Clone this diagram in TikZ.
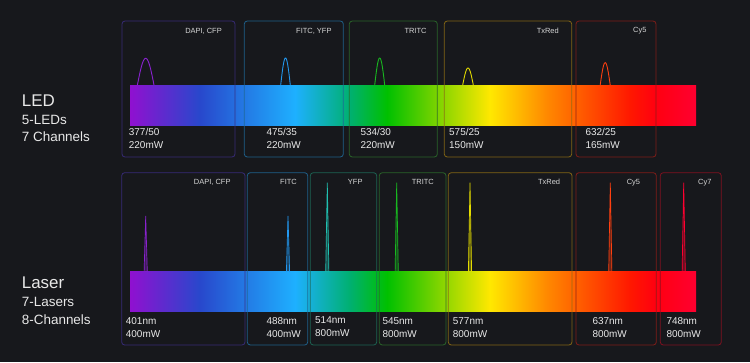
\documentclass[tikz,border=0pt]{standalone}
\usepackage{fontspec}
\setmainfont{Liberation Sans}
\usetikzlibrary{positioning}

\definecolor{bgdark}{RGB}{23,24,28}
\definecolor{txtlight}{RGB}{232,232,232}
\definecolor{txtsmall}{RGB}{214,214,214}
% spectrum stops
\definecolor{spViolet}{HTML}{9010D0}
\definecolor{spBlue}{HTML}{2848CC}
\definecolor{spSky}{HTML}{1EB0FF}
\definecolor{spTeal}{HTML}{00B070}
\definecolor{spGreen}{HTML}{00C000}
\definecolor{spYellow}{HTML}{FFE800}
\definecolor{spOrange}{HTML}{FF8800}
\definecolor{spRedOr}{HTML}{FF1800}
\definecolor{spRed}{HTML}{FF0010}
\definecolor{spCrimson}{HTML}{FF0030}
% box outlines
\definecolor{boxDapi}{HTML}{3A2C80}
\definecolor{boxFitc}{HTML}{1F6795}
\definecolor{boxYfp}{HTML}{1D6A58}
\definecolor{boxTritc}{HTML}{2B6B2A}
\definecolor{boxTxred}{HTML}{8C6C14}
\definecolor{boxCyfive}{HTML}{8A1D18}
\definecolor{boxCyseven}{HTML}{8A1020}
% peaks
\definecolor{pkDapi}{HTML}{8A22D0}
\definecolor{pkFitc}{HTML}{2298F0}
\definecolor{pkYfp}{HTML}{20C0B0}
\definecolor{pkTritc}{HTML}{18B820}
\definecolor{pkTxred}{HTML}{E4DC00}
\definecolor{pkCyfive}{HTML}{FF4010}
\definecolor{pkCyseven}{HTML}{FF0030}

\pgfdeclarehorizontalshading{spectrum}{100bp}{color(0bp)=(spViolet); color(25bp)=(spViolet);
  color(31.18bp)=(spBlue); color(39.58bp)=(spSky); color(44.43bp)=(spTeal);
  color(47.7bp)=(spGreen); color(56.8bp)=(spYellow); color(61.84bp)=(spOrange);
  color(69.17bp)=(spRedOr); color(71.38bp)=(spRed); color(75bp)=(spCrimson); color(100bp)=(spCrimson)}

\newcommand{\ledpeak}[4]{% center, half width, height, colour
  \draw[peakline=#4] plot[domain=-1:1, samples=31, smooth] ({#1+#2*\x}, {85-#3*cos(90*\x)});}
\newcommand{\laserspike}[3]{% center, top, colour
  \draw[spikeline=#3] (#1-1.6,271.7) -- (#1,#2) -- (#1+1.6,271.7);}

\tikzset{
  chanbox/.style={draw=#1, line width=0.8pt, rounded corners=3pt, draw opacity=0.9},
  peakline/.style={draw=#1, line width=0.9pt},
  spikeline/.style={draw=#1, fill=#1, fill opacity=0.35, line width=0.7pt, line join=miter},
  tag/.style={font=\fontsize{7.5}{9}\selectfont, text=txtsmall, inner sep=0pt, anchor=base east},
  val/.style={font=\fontsize{10}{13}\selectfont, text=txtlight, inner sep=0pt, anchor=north west, align=left},
  bigtitle/.style={font=\fontsize{17}{20}\selectfont, text=txtlight, inner sep=0pt, anchor=base west},
  subtitle/.style={font=\fontsize{13.5}{16}\selectfont, text=txtlight, inner sep=0pt, anchor=base west}
}

\begin{document}
\begin{tikzpicture}[x=1bp, y=-1bp]
  \fill[bgdark] (0,0) rectangle (750,362);
  \useasboundingbox (0,0) rectangle (750,362);

  % spectrum bars
  \shade[shading=spectrum] (130,85) rectangle (696,125.7);
  \shade[shading=spectrum] (130,271.7) rectangle (696,311.7);

  % LED channel boxes
  \draw[chanbox=boxDapi]   (122,21)    rectangle (235,157);
  \draw[chanbox=boxFitc]   (244.3,21)  rectangle (343.3,157);
  \draw[chanbox=boxTritc]  (349.3,21)  rectangle (437.3,157);
  \draw[chanbox=boxTxred]  (444.3,21)  rectangle (571.7,157);
  \draw[chanbox=boxCyfive] (576,21)    rectangle (656,157);

  % laser channel boxes
  \draw[chanbox=boxDapi]    (121.7,172.7) rectangle (245,345);
  \draw[chanbox=boxFitc]    (247.3,172.7) rectangle (307.7,345);
  \draw[chanbox=boxYfp]     (310.3,172.7) rectangle (376.7,345);
  \draw[chanbox=boxTritc]   (379.3,172.7) rectangle (446,345);
  \draw[chanbox=boxTxred]   (448.3,172.7) rectangle (572,345);
  \draw[chanbox=boxCyfive]  (576,172.7)   rectangle (656.3,345);
  \draw[chanbox=boxCyseven] (660.3,172.7) rectangle (721.3,345);

  % LED peaks
  \ledpeak{145.7}{8.3}{26.7}{pkDapi}
  \ledpeak{285.5}{4.8}{27}{pkFitc}
  \ledpeak{379.7}{5}{27}{pkTritc}
  \ledpeak{468}{5.3}{17}{pkTxred}
  \ledpeak{605.2}{5}{22.3}{pkCyfive}

  % laser lines
  \laserspike{145.7}{216}{pkDapi}
  \laserspike{288}{216}{pkFitc}
  \laserspike{327.3}{182.7}{pkYfp}
  \laserspike{396.7}{182.7}{pkTritc}
  \laserspike{470}{182.7}{pkTxred}
  \laserspike{610.3}{182.7}{pkCyfive}
  \laserspike{683.7}{182.7}{pkCyseven}

  % titles
  \node[bigtitle] (ledT) at (21.7,106) {LED};
  \node[subtitle] (ledN) at (21.7,124) {5-LEDs};
  \node[subtitle] (ledC) at (21.7,141.5) {7 Channels};
  \node[bigtitle] (lasT) at (21.7,288.7) {Laser};
  \node[subtitle] (lasN) at (21.7,306.7) {7-Lasers};
  \node[subtitle] (lasC) at (21.7,324) {8-Channels};

  % LED tags
  \node[tag] (ledDapi)   at (222,33.2)   {DAPI, CFP};
  \node[tag] (ledFitc)   at (331.7,33.2) {FITC, YFP};
  \node[tag] (ledTritc)  at (426.7,33.2) {TRITC};
  \node[tag] (ledTxred)  at (559,33.2)   {TxRed};
  \node[tag] (ledCyfive) at (646.7,32)   {Cy5};

  % laser tags
  \node[tag] (lasDapi)    at (230.7,184.9) {DAPI, CFP};
  \node[tag] (lasFitc)    at (297,184.9)   {FITC};
  \node[tag] (lasYfp)     at (362.7,184.9) {YFP};
  \node[tag] (lasTritc)   at (434,184.9)   {TRITC};
  \node[tag] (lasTxred)   at (560.3,184.9) {TxRed};
  \node[tag] (lasCyfive)  at (640.3,184.9) {Cy5};
  \node[tag] (lasCyseven) at (711.7,184.9) {Cy7};

  % LED values
  \node[val] (ledDapiV)   at (128.7,128.5) {377/50\\220mW};
  \node[val] (ledFitcV)   at (266.3,128.5) {475/35\\220mW};
  \node[val] (ledTritcV)  at (360.3,128.5) {534/30\\220mW};
  \node[val] (ledTxredV)  at (449,128.5)   {575/25\\150mW};
  \node[val] (ledCyfiveV) at (585.3,128.5) {632/25\\165mW};

  % laser values
  \node[val] (lasDapiV)    at (125.7,317.3) {401nm\\400mW};
  \node[val] (lasFitcV)    at (266.3,317.3) {488nm\\400mW};
  \node[val] (lasYfpV)     at (315,316.3)   {514nm\\800mW};
  \node[val] (lasTritcV)   at (382.3,317.3) {545nm\\800mW};
  \node[val] (lasTxredV)   at (452.7,317.3) {577nm\\800mW};
  \node[val] (lasCyfiveV)  at (592.3,317.3) {637nm\\800mW};
  \node[val] (lasCysevenV) at (666.3,317.3) {748nm\\800mW};
\end{tikzpicture}
\end{document}
